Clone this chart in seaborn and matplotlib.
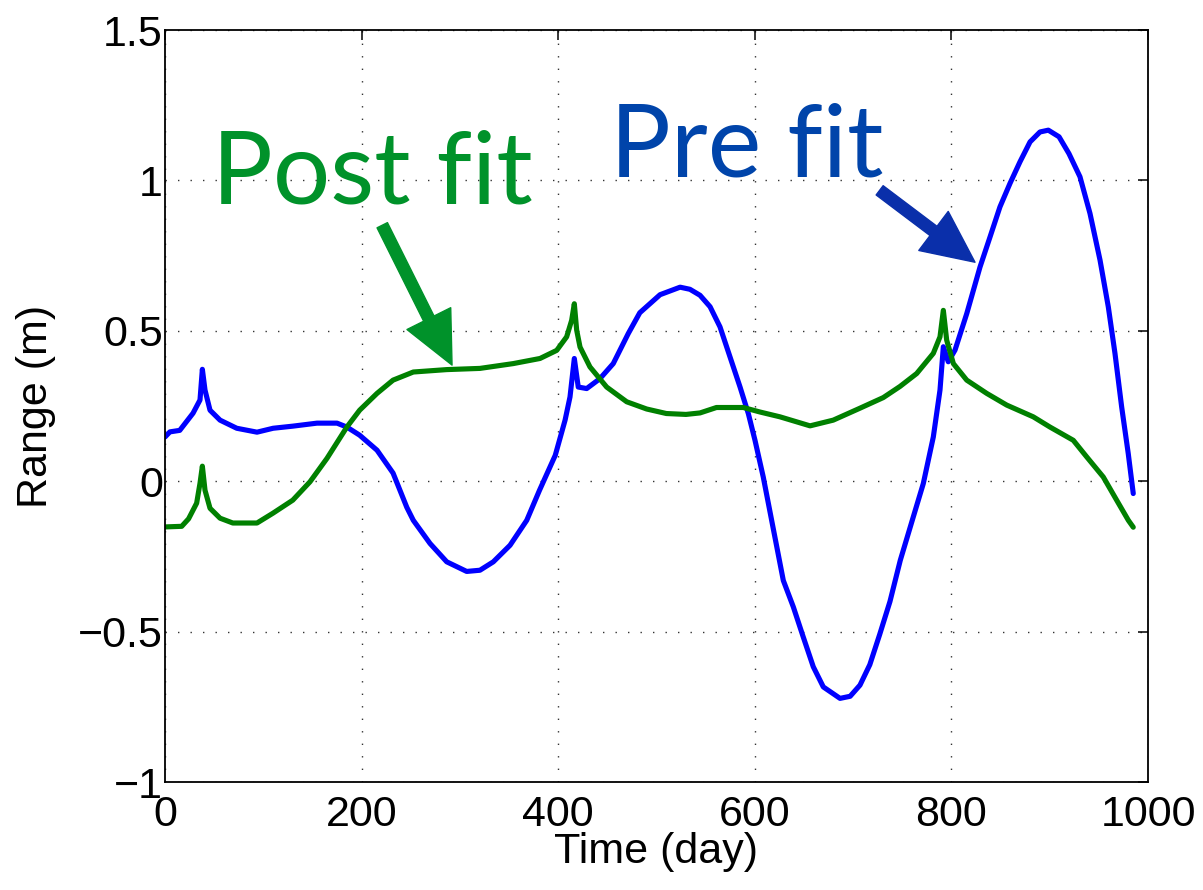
import numpy as np
import pandas as pd
import matplotlib
matplotlib.use("Agg")
import matplotlib.pyplot as plt
import seaborn as sns

# ---- data ----
pre_days = [0, 5, 15, 28.5, 35.6, 38, 40.7, 45.8, 56, 73, 93.6, 110, 130, 154.6, 175, 185, 198,
            215.7, 232, 246, 252.6, 269.6, 286.6, 306.9, 320.4, 334, 351, 368, 381, 397, 407, 412,
            416.4, 420.4, 429, 442.5, 456, 471.3, 483, 503.6, 524, 534, 544.3, 554.5, 564.6, 574.8,
            585, 593.4, 600.2, 608.6, 629, 639.2, 649.3, 659.5, 669.7, 686.7, 697, 707, 717, 727,
            737.5, 748, 761.2, 771.4, 781.6, 788.4, 791.8, 796.8, 803.7, 815.6, 829.1, 839.3, 849.4,
            859.6, 869.8, 880, 890.1, 898.6, 909.5, 919.6, 930.8, 941, 951.2, 959.6, 966.4, 973.2,
            979.9, 985]
pre_range = [0.147, 0.164, 0.169, 0.226, 0.27, 0.372, 0.303, 0.236, 0.203, 0.176, 0.163, 0.176,
             0.183, 0.193, 0.193, 0.18, 0.153, 0.103, 0.027, -0.087, -0.13, -0.207, -0.268, -0.30,
             -0.296, -0.268, -0.213, -0.13, -0.03, 0.086, 0.203, 0.28, 0.408, 0.313, 0.308, 0.341,
             0.391, 0.491, 0.56, 0.62, 0.645, 0.638, 0.618, 0.58, 0.513, 0.413, 0.313, 0.225, 0.136,
             0.014, -0.33, -0.418, -0.518, -0.617, -0.684, -0.722, -0.715, -0.678, -0.61, -0.51,
             -0.40, -0.263, -0.119, -0.008, 0.147, 0.303, 0.447, 0.397, 0.436, 0.557, 0.712, 0.812,
             0.912, 0.99, 1.062, 1.128, 1.161, 1.167, 1.145, 1.089, 1.012, 0.89, 0.735, 0.58, 0.425,
             0.247, 0.092, -0.041]

post_days = [0, 17, 24, 32.2, 35.6, 38, 40.7, 45.8, 56, 69, 93.6, 110, 130, 147.5, 164.8, 185, 198,
             215.7, 232, 252.6, 286.6, 320.4, 354.3, 381.5, 398.5, 408.6, 413.7, 416.4, 418.8, 422.2,
             432.3, 449.3, 469.7, 490, 510, 530, 544.3, 561, 588.3, 605.3, 625.6, 656.2, 679.8,
             706.5, 730.7, 747.7, 764.7, 781.6, 788.4, 791.8, 795.2, 802, 815.6, 835.9, 856.3,
             883.3, 900.3, 924, 937.6, 954.5, 968.1, 980, 985]
post_range = [-0.152, -0.15, -0.125, -0.073, -0.007, 0.05, -0.03, -0.09, -0.123, -0.139, -0.139,
              -0.106, -0.063, -0.002, 0.076, 0.18, 0.236, 0.292, 0.336, 0.363, 0.371, 0.375, 0.391,
              0.408, 0.435, 0.48, 0.535, 0.59, 0.502, 0.446, 0.38, 0.313, 0.264, 0.24, 0.225, 0.222,
              0.227, 0.245, 0.245, 0.23, 0.214, 0.184, 0.203, 0.242, 0.278, 0.315, 0.358, 0.425,
              0.48, 0.568, 0.469, 0.391, 0.336, 0.292, 0.253, 0.214, 0.18, 0.136, 0.081, 0.014,
              -0.063, -0.13, -0.153]

x_ticks = [0, 200, 400, 600, 800, 1000]
y_ticks = [-1, -0.5, 0, 0.5, 1, 1.5]
y_tick_labels = ["\u22121", "\u22120.5", "0", "0.5", "1", "1.5"]

pre_df = pd.DataFrame({"Time (day)": pre_days, "Range (m)": pre_range})
post_df = pd.DataFrame({"Time (day)": post_days, "Range (m)": post_range})

sns.set_style("white")
plt.rcParams["font.family"] = ["Liberation Sans", "DejaVu Sans"]

fig = plt.figure(figsize=(12.03, 8.90), dpi=100)
ax = fig.add_axes([165 / 1203, 1 - 782 / 890, (1148 - 165) / 1203, (782 - 30) / 890])

sns.lineplot(data=pre_df, x="Time (day)", y="Range (m)", ax=ax, color="#0000ff", lw=3.7,
             sort=False, estimator=None, solid_joinstyle="round")
sns.lineplot(data=post_df, x="Time (day)", y="Range (m)", ax=ax, color="#008000", lw=3.7,
             sort=False, estimator=None, solid_joinstyle="round")

ax.set_xlim(0, 1000)
ax.set_ylim(-1, 1.5)
ax.set_xticks(x_ticks)
ax.set_yticks(y_ticks)
ax.set_yticklabels(y_tick_labels)
ax.grid(True, color="#333333", linestyle=(0, (1, 8)), linewidth=1.0)
for s in ax.spines.values():
    s.set_visible(True)
    s.set_color("black")
    s.set_linewidth(1.3)
ax.tick_params(direction="in", length=7, width=1.1, top=True, right=True,
               labelsize=31, colors="black")
ax.tick_params(axis="x", pad=9.5)
ax.tick_params(axis="y", pad=1.5)
ax.set_xlabel("Time (day)", fontsize=31, labelpad=-2, color="black")
ax.set_ylabel("Range (m)", fontsize=31, labelpad=16, color="black")

# annotations
ax.text(47.8, 0.924, "Post fit", color="#00922a", fontsize=73, family="Lato",
        ha="left", va="baseline")
ax.text(452.7, 1.014, "Pre fit", color="#0044aa", fontsize=73, family="Lato",
        ha="left", va="baseline")
ax.annotate("", xy=(292, 0.386), xytext=(221, 0.851),
            arrowprops=dict(arrowstyle="simple,head_width=1.6,head_length=1.7,tail_width=0.38",
                            color="#00922a", mutation_scale=22, shrinkA=0, shrinkB=0))
ax.annotate("", xy=(824, 0.728), xytext=(727, 0.967),
            arrowprops=dict(arrowstyle="simple,head_width=1.6,head_length=1.7,tail_width=0.38",
                            color="#0a2faa", mutation_scale=22, shrinkA=0, shrinkB=0))

fig.savefig("out.png", dpi=100, facecolor="white")
